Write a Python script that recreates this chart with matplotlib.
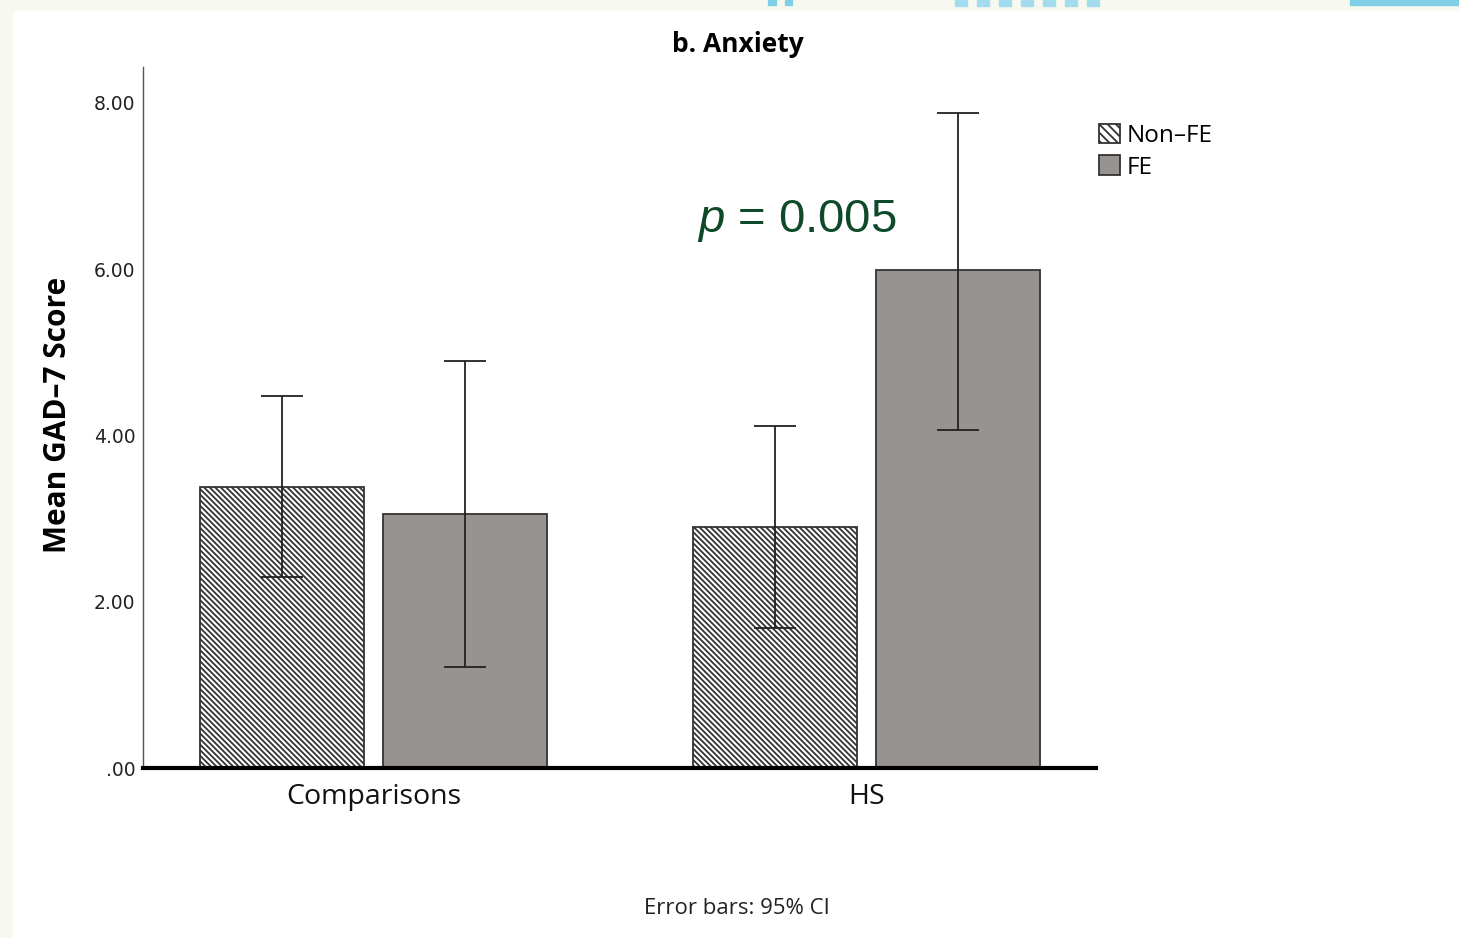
import numpy as np
import matplotlib
matplotlib.use('Agg')
import matplotlib.pyplot as plt
from matplotlib.patches import Rectangle, Patch
from matplotlib.ticker import FuncFormatter

# Data (means and 95% CI limits)
groups = ['Comparisons', 'HS']
non_fe_mean = [3.38, 2.90]
non_fe_lo = [2.30, 1.68]
non_fe_hi = [4.47, 4.11]
fe_mean = [3.05, 5.99]
fe_lo = [1.21, 4.07]
fe_hi = [4.89, 7.88]
yticks = [0, 2, 4, 6, 8]

plt.rcParams['hatch.linewidth'] = 1.3
plt.rcParams['hatch.color'] = '#333333'
plt.rcParams['mathtext.fontset'] = 'custom'
plt.rcParams['mathtext.it'] = 'Liberation Sans:italic'
plt.rcParams['mathtext.rm'] = 'Liberation Sans'

W, H = 1459, 938
fig = plt.figure(figsize=(W / 100, H / 100), dpi=100)
fig.patch.set_facecolor('white')

# page border / decoration from the screenshot
fig.patches.append(Rectangle((0, 0), 12 / W, 1, transform=fig.transFigure,
                             color='#f7f9f0', zorder=0))
fig.patches.append(Rectangle((0, 1 - 10 / H), 1, 10 / H, transform=fig.transFigure,
                             color='#f7f9f0', zorder=0))
for x0, x1 in [(768, 776), (785, 792), (1350, 1459)]:
    fig.patches.append(Rectangle((x0 / W, 1 - 5 / H), (x1 - x0) / W, 5 / H,
                                 transform=fig.transFigure, color='#7fcfe6', zorder=1))
for x0 in range(955, 1100, 22):
    fig.patches.append(Rectangle((x0 / W, 1 - 6 / H), 12 / W, 6 / H,
                                 transform=fig.transFigure, color='#a3dcee', zorder=1))

ax = fig.add_axes([143 / W, 1 - 768 / H, (1096 - 143) / W, (768 - 67) / H])

x = np.arange(len(groups))
off = 0.1856
width = 0.3327
ebar = dict(ecolor='#222222', elinewidth=1.3, capsize=15, capthick=1.3)

non_err = [np.array(non_fe_mean) - np.array(non_fe_lo), np.array(non_fe_hi) - np.array(non_fe_mean)]
fe_err = [np.array(fe_mean) - np.array(fe_lo), np.array(fe_hi) - np.array(fe_mean)]

ax.bar(x - off, non_fe_mean, width, color='white', edgecolor='#333333', linewidth=1.3,
       hatch='\\\\\\\\\\\\', yerr=non_err, error_kw=ebar, label='Non-FE', zorder=2)
ax.bar(x + off, fe_mean, width, color='#979391', edgecolor='#333333', linewidth=1.3,
       yerr=fe_err, error_kw=ebar, label='FE', zorder=2)

ax.set_xlim(-0.4675, 1.4655)
ax.set_ylim(0, 8.43)
ax.set_xticks(x)
ax.set_xticklabels(groups, fontsize=20.5, family='Open Sans', color='#111111')
ax.set_yticks(yticks)
ax.yaxis.set_major_formatter(FuncFormatter(lambda v, p: f'{v:.2f}'.lstrip('0') if v == 0 else f'{v:.2f}'))
ax.tick_params(axis='y', length=0, pad=5.5, labelsize=13.5, labelcolor='#222222')
ax.tick_params(axis='x', length=0, pad=11)

for s in ['top', 'right']:
    ax.spines[s].set_visible(False)
ax.spines['left'].set_color('#555555')
ax.spines['left'].set_linewidth(1.0)
ax.spines['bottom'].set_color('black')
ax.spines['bottom'].set_linewidth(3)
ax.spines['bottom'].set_zorder(3)

ax.set_ylabel('Mean GAD\u20137 Score', fontsize=21.5, fontweight='bold', family='Open Sans')
ax.yaxis.set_label_coords(-0.0735, 0.503)

fig.text(738 / W, 1 - 44 / H, 'b. Anxiety', ha='center', va='center',
         fontsize=19, fontweight='bold', family='Open Sans')
fig.text(737 / W, 1 - 908 / H, 'Error bars: 95% CI', ha='center', va='center',
         fontsize=16, family='Open Sans', color='#222222')

ax.text(0.656, 6.45, '$p$ = 0.005', fontsize=34, family='Liberation Sans',
        color='#0e4a2a', va='baseline', ha='left')

handles = [Patch(facecolor='white', edgecolor='#333333', hatch='\\\\\\\\', linewidth=1.3),
           Patch(facecolor='#979391', edgecolor='#333333', linewidth=1.3)]
fig.legend(handles, ['Non\u2013FE', 'FE'], loc='upper left',
           bbox_to_anchor=(1099 / W, 1 - 124 / H), frameon=False,
           prop={'family': 'Open Sans', 'size': 17.5}, handlelength=0.85, handleheight=0.85,
           handletextpad=0.3, labelspacing=0.3, borderpad=0, borderaxespad=0)

fig.savefig('out.png', dpi=100, facecolor=fig.get_facecolor())
